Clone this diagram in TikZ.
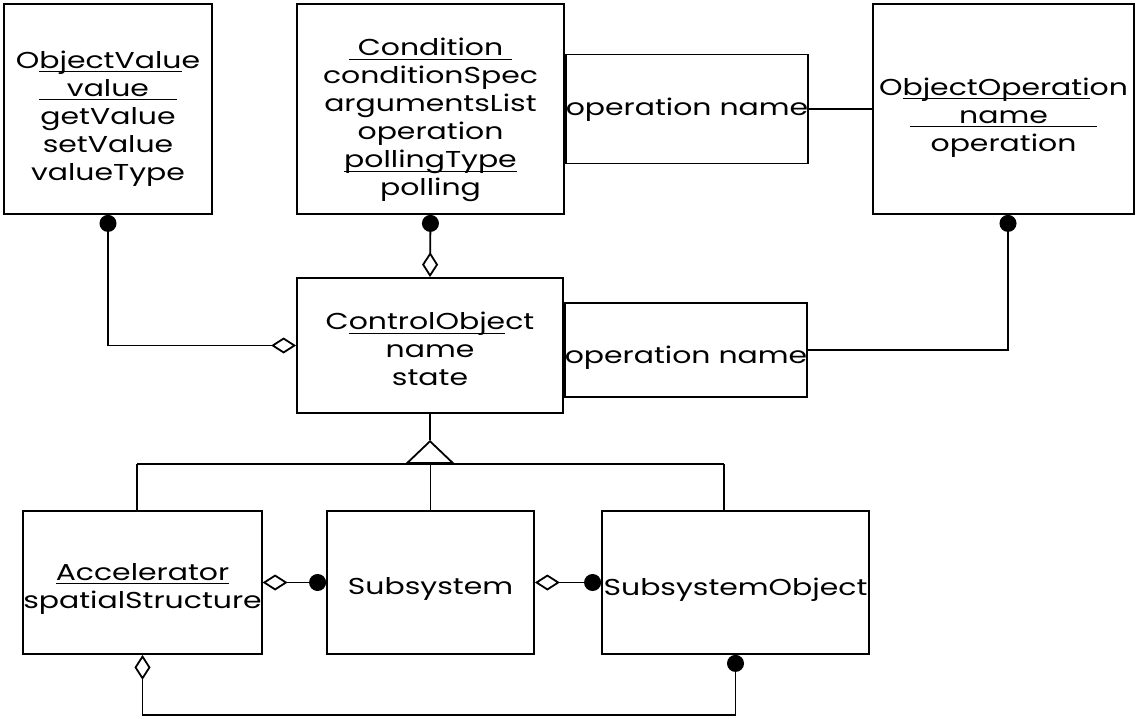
\documentclass[tikz,border=0pt]{standalone}
\usepackage{amsmath}
\usepackage{fontspec}
\setmainfont{Poppins}[FakeStretch=1.3]
\usepackage{tikz}
\usetikzlibrary{positioning, arrows.meta}

\newcommand{\undl}[1]{$\underline{\smash[b]{\hbox{#1}}}$}
\newcommand{\topgap}[1]{\rule{0pt}{#1}}

\begin{document}
\begin{tikzpicture}[x=1pt, y=-1pt, line width=1.8pt,
    textdrop/.style={execute at begin node={\rule{0pt}{#1}}},
    textdrop/.default=31pt,
    cls/.style={draw, align=center, inner sep=0pt, font=\fontsize{23}{28}\selectfont},
    part/.style={{Circle[length=17pt]}-{Diamond[open, length=25pt, width=16pt]}},
    gen/.style={-{Triangle[open, length=24pt, width=50pt]}}]
   \useasboundingbox (0,0) rectangle (1139,719);

   \node[cls, minimum width=208pt, minimum height=210pt] (ov) at (108,109)
      {\topgap{36pt}O\undl{bjectValu}e\\ \undl{\makebox[138pt]{value}}\\ getValue\\ setValue\\ valueType};
   \node[cls, minimum width=267pt, minimum height=210pt] (cond) at (430.5,109)
      {\topgap{40pt}\undl{\makebox[163pt]{Condition}}\\ conditionSpec\\ argumentsList\\ operation\\ \undl{pollingType}\\ polling};
    \node[cls, textdrop=19pt, minimum width=237pt, minimum height=109pt, right = 0pt of cond] (condop) {operation name};
   \node[cls, minimum width=261pt, minimum height=210pt] (oo) at (1003.5,109)
      {\topgap{34pt}O\undl{bjectOperati}on\\ \undl{\makebox[187pt]{name}}\\ operation};

   \node[cls, minimum width=266pt, minimum height=135pt] (co) at (430,345.5)
      {\topgap{25pt}C\undl{ontrolObje}ct\\ name\\ state};
    \node[cls, textdrop=33pt, minimum width=238pt, minimum height=94pt, right = 0pt of co, yshift=-4.5pt] (coop) {operation name};

   \node[cls, minimum width=237pt, minimum height=143pt] (acc) at (142.5,582.5)
      {\topgap{29pt}\undl{Accelerator}\\ spatialStructure};
   \node[cls, textdrop=29pt, minimum width=207pt, minimum height=143pt] (sub) at (430.5,582.5) {Subsystem};
   \node[cls, textdrop, minimum width=267pt, minimum height=143pt] (sobj) at (735.5,582.5) {SubsystemObject};

   \coordinate (bl) at (137,464);
   \coordinate (br) at (724,464);
   \coordinate (apex) at (430,440);
   \coordinate (low) at (0,715);

    \path (ov.south) edge[part, to path={|- (\tikztotarget)}] (co.west);
    \path (cond.south) edge[part] (co.north);
    \path (condop.east) edge (oo.west);
    \draw[-{Circle[length=17pt]}] (coop.east) -| ([xshift=4.5pt]oo.south);

    \draw (co.south) -- (apex);
    \draw[gen] (apex |- bl) -- (apex);
    \draw (bl) -- (br);
    \draw (bl) -- (bl |- acc.north);
    \draw (sub.north |- bl) -- (sub.north);
    \draw (br) -- (br |- sobj.north);

    \path (sub.west) edge[part] (acc.east);
    \path (sobj.west) edge[part] (sub.east);
    \draw[part] (sobj.south) -- (sobj.south |- low) -| (acc.south);

\end{tikzpicture}
\end{document}
